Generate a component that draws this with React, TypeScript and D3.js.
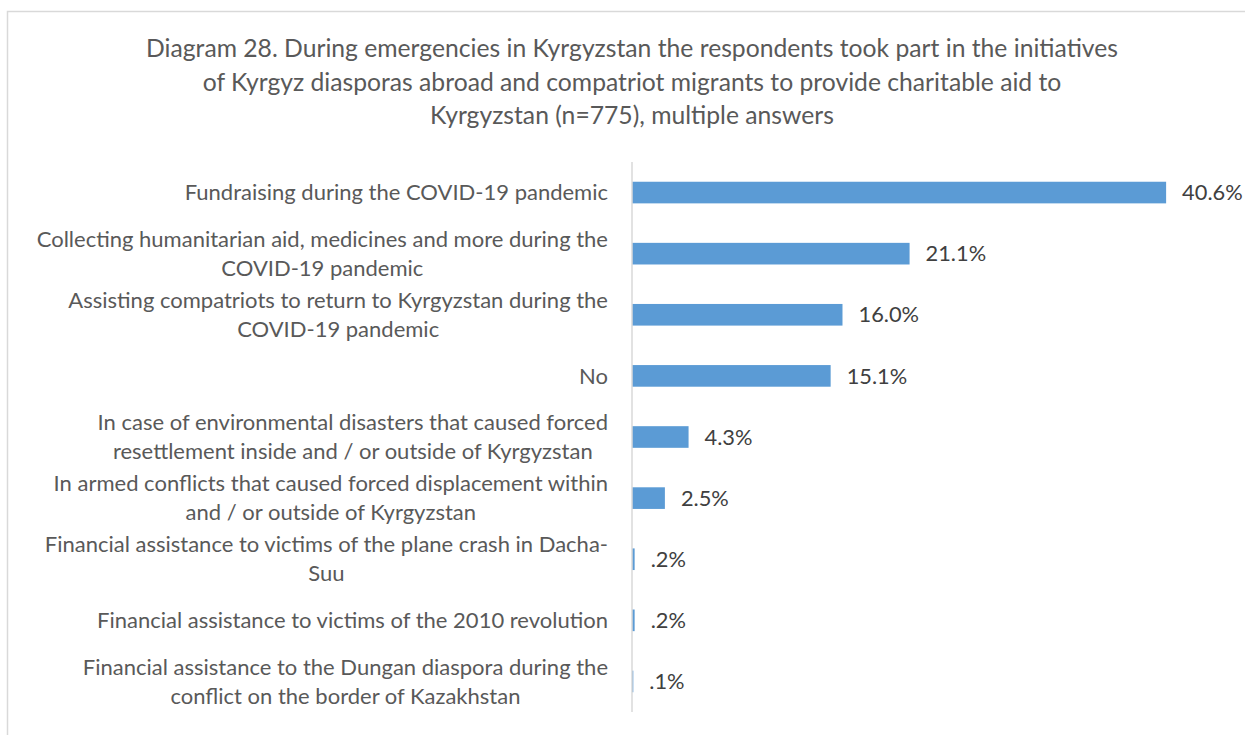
import React, { useEffect, useRef } from "react";
import * as d3 from "d3";

const titleLines: string[] = [
  "Diagram 28. During emergencies in Kyrgyzstan the respondents took part in the initiatives",
  "of Kyrgyz diasporas abroad and compatriot migrants to provide charitable aid to",
  "Kyrgyzstan (n=775), multiple answers",
];

const categories: string[] = [
  "Fundraising during the COVID-19 pandemic",
  "Collecting humanitarian aid, medicines and more during the\nCOVID-19 pandemic",
  "Assisting compatriots to return to Kyrgyzstan during the\nCOVID-19 pandemic",
  "No",
  "In case of environmental disasters that caused forced\nresettlement inside and / or outside of Kyrgyzstan",
  "In armed conflicts that caused forced displacement within\nand / or outside of Kyrgyzstan",
  "Financial assistance to victims of the plane crash in Dacha-\nSuu",
  "Financial assistance to victims of the 2010 revolution",
  "Financial assistance to the Dungan diaspora during the\nconflict on the border of Kazakhstan",
];

const values: number[] = [40.6, 21.1, 16.0, 15.1, 4.3, 2.5, 0.2, 0.2, 0.1];
const valueLabels: string[] = ["40.6%", "21.1%", "16.0%", "15.1%", "4.3%", "2.5%", ".2%", ".2%", ".1%"];

const W = 1245;
const H = 735;
const FONT = "Lato, 'Open Sans', sans-serif";

export default function App() {
  const ref = useRef<SVGSVGElement | null>(null);

  useEffect(() => {
    const svg = d3.select(ref.current);
    svg.selectAll("*").remove();

    // chart border
    svg
      .append("rect")
      .attr("x", 7.5)
      .attr("y", 11.5)
      .attr("width", W + 20)
      .attr("height", H + 20)
      .attr("fill", "#ffffff")
      .attr("stroke", "#d9d9d9")
      .attr("stroke-width", 1.5);

    // title
    const title = svg
      .append("text")
      .attr("font-family", FONT)
      .attr("font-size", 24.7)
      .attr("fill", "#595959")
      .attr("text-anchor", "middle");
    titleLines.forEach((t, i) => {
      title
        .append("tspan")
        .attr("x", 632)
        .attr("y", 57 + i * 33.5)
        .text(t);
    });

    const x = d3.scaleLinear().domain([0, 45]).range([632, 1224]);
    const y = d3
      .scaleBand<number>()
      .domain(d3.range(categories.length))
      .range([162, 712])
      .paddingInner(0.646)
      .paddingOuter(0.323);

    // bars
    svg
      .append("g")
      .selectAll("rect")
      .data(values)
      .join("rect")
      .attr("x", x(0))
      .attr("y", (_, i) => y(i) as number)
      .attr("width", (d) => x(d) - x(0))
      .attr("height", y.bandwidth())
      .attr("fill", "#5b9bd5");

    // axis line
    svg
      .append("line")
      .attr("x1", x(0))
      .attr("x2", x(0))
      .attr("y1", 162)
      .attr("y2", 712)
      .attr("stroke", "#d9d9d9")
      .attr("stroke-width", 1.5);

    // value labels
    svg
      .append("g")
      .selectAll("text")
      .data(values)
      .join("text")
      .attr("x", (d) => x(d) + 16)
      .attr("y", (_, i) => (y(i) as number) + y.bandwidth() / 2)
      .attr("dy", "0.35em")
      .attr("font-family", FONT)
      .attr("font-size", 21.8)
      .attr("fill", "#404040")
      .text((_, i) => valueLabels[i]);

    // category labels
    const lineH = 29;
    const rightEdge = 608;
    const g = svg.append("g");
    categories.forEach((c, i) => {
      const lines = c.split("\n");
      const cy = (y(i) as number) + y.bandwidth() / 2;
      const t = g
        .append("text")
        .attr("font-family", FONT)
        .attr("font-size", 22)
        .attr("fill", "#595959")
        .attr("text-anchor", "middle");
      const spans = lines.map((l, j) =>
        t
          .append("tspan")
          .attr("y", cy + (j - (lines.length - 1) / 2) * lineH)
          .attr("dy", "0.35em")
          .text(l)
      );
      const maxW = d3.max(spans, (s) => (s.node() as SVGTSpanElement).getComputedTextLength()) || 0;
      spans.forEach((s) => s.attr("x", rightEdge - maxW / 2));
    });
  }, []);

  return (
    <svg
      ref={ref}
      width={W}
      height={H}
      style={{ position: "absolute", left: 0, top: 0, background: "#fff" }}
    />
  );
}
